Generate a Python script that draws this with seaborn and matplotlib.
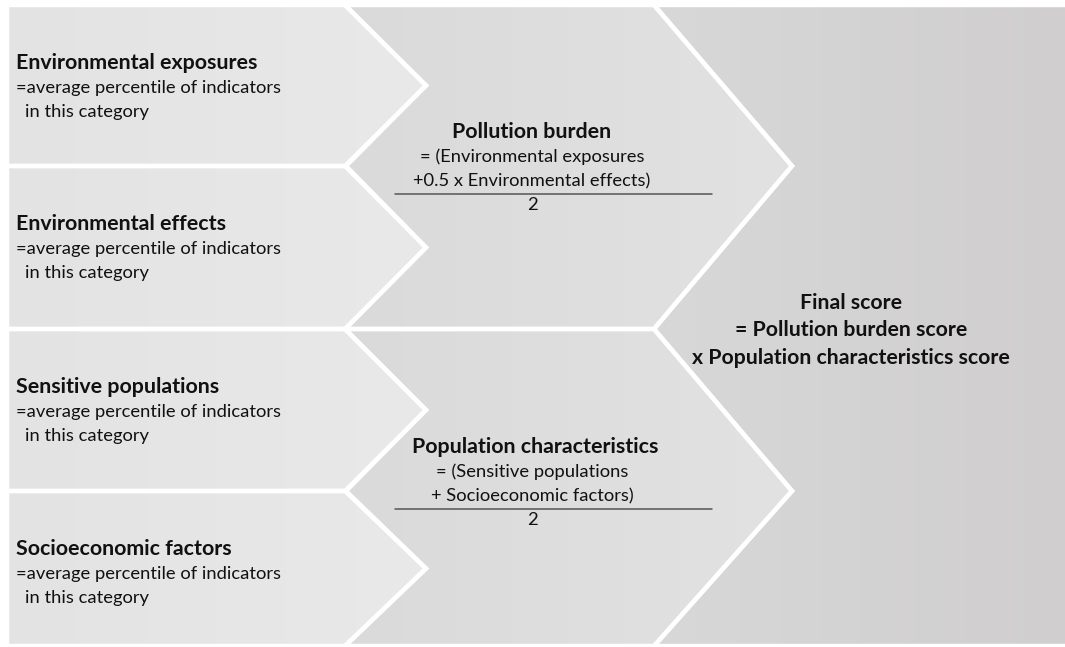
import numpy as np
import matplotlib
matplotlib.use("Agg")
import matplotlib.pyplot as plt
from matplotlib.patches import Polygon
import seaborn as sns

# ---- data (text content) ----
input_titles = ["Environmental exposures", "Environmental effects",
                "Sensitive populations", "Socioeconomic factors"]
input_desc_1 = "=average percentile of indicators"
input_desc_2 = "in this category"
middle_titles = ["Pollution burden", "Population characteristics"]
middle_num_1 = ["= (Environmental exposures", "= (Sensitive populations"]
middle_num_2 = ["+0.5 x Environmental effects)", "+ Socioeconomic factors)"]
middle_den = ["2", "2"]
final_lines = ["Final score", "= Pollution burden score",
               "x Population characteristics score"]

sns.set_theme(style="white")
plt.rcParams["font.family"] = ["Lato", "DejaVu Sans"]

W, H = 1065, 647
fig = plt.figure(figsize=(W / 100, H / 100), dpi=100)
ax = fig.add_axes([0, 0, 1, 1])
ax.set_xlim(0, W)
ax.set_ylim(H, 0)
ax.axis("off")
fig.patch.set_facecolor("white")

# geometry (pixels)
rows = [5, 166, 329, 491, 646]
xl, xf, xt = 7, 345, 426          # left edge, flat right edge, tip of left chevrons
mf, mt = 654, 792                 # middle flat right edge, middle tip
xr = 1065


def grad_fill(poly_pts, c_left, c_right):
    poly = Polygon(poly_pts, closed=True, facecolor="none", edgecolor="white",
                   linewidth=3.2, joinstyle="miter", zorder=3)
    ax.add_patch(poly)
    xs = [p[0] for p in poly_pts]
    ys = [p[1] for p in poly_pts]
    x0, x1 = min(xs), max(xs)
    y0, y1 = min(ys), max(ys)
    n = 256
    t = np.linspace(0, 1, n)
    cl = np.array(matplotlib.colors.to_rgb(c_left))
    cr = np.array(matplotlib.colors.to_rgb(c_right))
    img = (cl[None, :] * (1 - t[:, None]) + cr[None, :] * t[:, None])[None, :, :]
    im = ax.imshow(img, extent=[x0, x1, y1, y0], aspect="auto", zorder=2,
                   interpolation="bilinear")
    clip = Polygon(poly_pts, closed=True, transform=ax.transData)
    im.set_clip_path(clip)


# left chevrons
for i in range(4):
    top, bot = rows[i], rows[i + 1]
    mid = (top + bot) / 2
    pts = [(xl, top), (xf, top), (xt, mid), (xf, bot), (xl, bot)]
    grad_fill(pts, "#e3e3e3", "#e9e9e9")

# middle chevrons
for k in range(2):
    top, midrow, bot = rows[2 * k], rows[2 * k + 1], rows[2 * k + 2]
    m1 = (top + midrow) / 2
    m2 = (midrow + bot) / 2
    pts = [(xf, top), (mf, top), (mt, midrow), (mf, bot), (xf, bot),
           (xt, m2), (xf + 1, midrow), (xt, m1)]
    grad_fill(pts, "#dadada", "#e2e2e2")

# final block
pts = [(mf, rows[0]), (xr + 5, rows[0]), (xr + 5, rows[4]), (mf, rows[4]),
       (mt, rows[3]), (mf, rows[2]), (mt, rows[1])]
grad_fill(pts, "#d8d8d8", "#d0cece")

# ---- text ----
tc = "#111111"
title_fs = 15.4
body_fs = 13.2
final_fs = 15.3
for i, title in enumerate(input_titles):
    top = rows[i]
    ax.text(16, top + 58, title, fontsize=title_fs, fontweight="bold",
            color=tc, va="center", ha="left", zorder=5)
    ax.text(16, top + 83, input_desc_1, fontsize=body_fs, color=tc,
            va="center", ha="left", zorder=5)
    ax.text(25, top + 107, input_desc_2, fontsize=body_fs, color=tc,
            va="center", ha="left", zorder=5)

mid_title_y = [132, 447]
mid_cx = 532
for k in range(2):
    y = mid_title_y[k]
    ax.text(mid_cx + 3 * k, y, middle_titles[k], fontsize=title_fs,
            fontweight="bold", color=tc, va="center", ha="center", zorder=5)
    ax.text(mid_cx, y + 25, middle_num_1[k], fontsize=body_fs, color=tc,
            va="center", ha="center", zorder=5)
    ax.text(mid_cx, y + 49, middle_num_2[k], fontsize=body_fs, color=tc,
            va="center", ha="center", zorder=5)
    ax.plot([395, 712], [y + 62, y + 62], color="#555555", linewidth=1.1,
            zorder=5)
    ax.text(mid_cx, y + 73, middle_den[k], fontsize=body_fs, color=tc,
            va="center", ha="center", zorder=5)

final_y = [303, 330, 358]
for j, line in enumerate(final_lines):
    ax.text(851, final_y[j], line, fontsize=final_fs, fontweight="bold",
            color=tc, va="center", ha="center", zorder=5)

fig.savefig("out.png", dpi=100, facecolor="white")
